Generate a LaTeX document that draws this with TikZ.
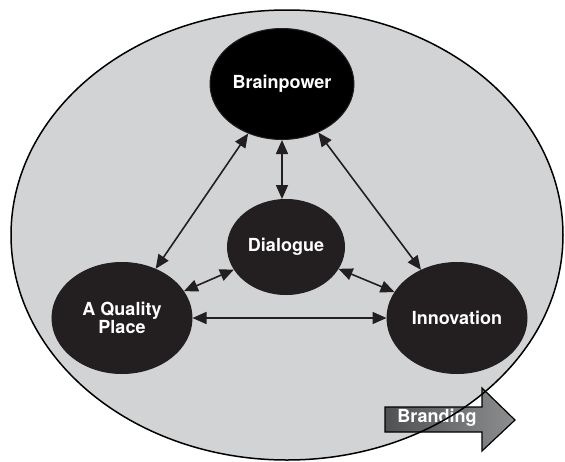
\documentclass[tikz,border=0pt]{standalone}
\usepackage{fontspec}
\setsansfont{TeX Gyre Heros}
\usetikzlibrary{shapes,arrows.meta,calc}
\definecolor{lcfield}{HTML}{D1D3D4}
\definecolor{lchub}{HTML}{231F20}
\definecolor{lcbrandl}{HTML}{505153}
\definecolor{lcbrandr}{HTML}{8C8E90}

\begin{document}
\begin{tikzpicture}[%
    >={Triangle[length=14pt,width=12pt]}, % Filled triangle tips at both ends
    x=1pt, y=-1pt,                        % Work in pixel units, top-down
    every node/.style={font=\sffamily\bfseries\fontsize{18}{18}\selectfont}]
% -------------------------------------------------
% A few styles
\tikzset{
  base/.style={ellipse, draw=lchub, fill=lchub, line width=1pt,
    text=white, align=center, inner sep=0pt},
  hub/.style={base, minimum width=140pt, minimum height=111pt},
  core/.style={base, minimum width=117pt, minimum height=95pt},
  % connector line style
  link/.style={<->, draw, lchub, line width=1.6pt},
  brand/.style={left color=lcbrandl, right color=lcbrandr, draw=black,
    line width=1.2pt},
  field/.style={draw=black, line width=1.5pt}
}
\useasboundingbox (0,0) rectangle (565,461);
% -------------------------------------------------
% The grey field behind everything
\coordinate (ctr) at (287,235);
\fill [lcfield] (ctr) ellipse [x radius=276, y radius=225];

% -------------------------------------------------
% The four ellipses
\node [hub, fill=black, minimum width=144pt] (bp) at (282,84) {Brainpower};
\node [core] (dlg) at (286,247) {Dialogue};
\node [hub] (qp) at (122,318) {A Quality\\Place};
\node [hub] (inn) at (457,318) {Innovation};

% -------------------------------------------------
% Two-way connectors
\draw [link] (bp) -- (qp);
\draw [link] (bp) -- (inn);
\draw [link] (bp.south) -- (bp.south |- dlg.north);
\draw [link] (dlg) -- (qp);
\draw [link] (dlg) -- (inn);
\draw [link] (qp) -- (inn);

% -------------------------------------------------
% The branding arrow, which sits on the rim
\shadedraw [brand] (385,407) -- (482,407) -- (482,388) -- (515,420)
  -- (482,451) -- (482,432) -- (385,432) -- cycle;
\node [text=white] (br) at (437,418) {Branding};

% the rim goes over the arrow
\draw [field] (ctr) ellipse [x radius=276, y radius=225];
\end{tikzpicture}
\end{document}
